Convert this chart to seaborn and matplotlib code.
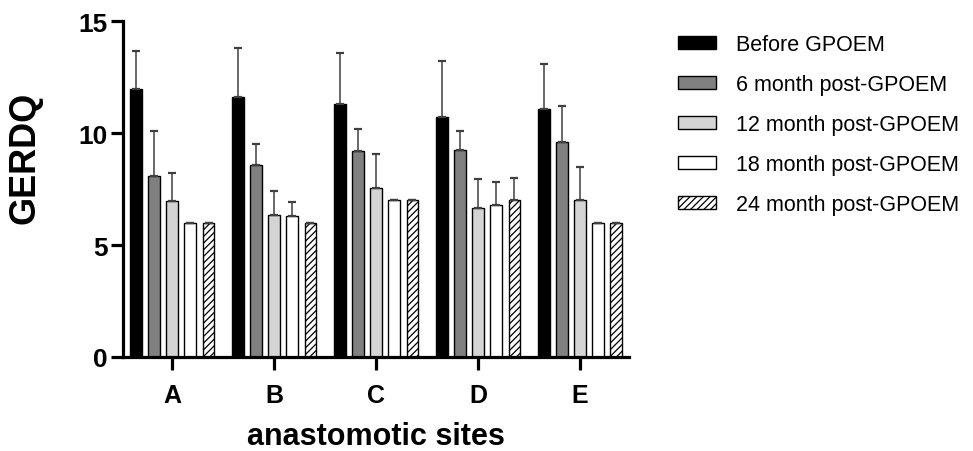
import numpy as np
import pandas as pd
import matplotlib
matplotlib.use("Agg")
import matplotlib.pyplot as plt
import seaborn as sns

# ---- data ----
sites = ["A", "B", "C", "D", "E"]
groups = ["Before GPOEM", "6 month post-GPOEM", "12 month post-GPOEM",
          "18 month post-GPOEM", "24 month post-GPOEM"]
before = [11.95, 11.6, 11.3, 10.7, 11.05]
m6 = [8.1, 8.55, 9.2, 9.25, 9.6]
m12 = [6.95, 6.35, 7.55, 6.65, 7.0]
m18 = [6.0, 6.3, 7.0, 6.8, 6.0]
m24 = [6.0, 6.0, 7.0, 7.0, 6.0]
err_before = [1.7, 2.2, 2.25, 2.5, 2.05]
err_m6 = [2.0, 0.95, 1.0, 0.85, 1.6]
err_m12 = [1.25, 1.05, 1.5, 1.3, 1.5]
err_m18 = [0.0, 0.6, 0.0, 1.0, 0.0]
err_m24 = [0.0, 0.0, 0.0, 1.0, 0.0]

values = [before, m6, m12, m18, m24]
errors = [err_before, err_m6, err_m12, err_m18, err_m24]
colors = ["#000000", "#808080", "#d4d4d4", "#ffffff", "#ffffff"]

df = pd.DataFrame({
    "site": [s for _ in groups for s in sites],
    "group": [g for g in groups for _ in sites],
    "value": [v for vals in values for v in vals],
})

sns.set_style("ticks")
plt.rcParams["font.family"] = ["Liberation Sans", "DejaVu Sans"]
plt.rcParams["hatch.linewidth"] = 0.9
plt.rcParams["hatch.color"] = "#333333"
plt.rcParams["text.color"] = "black"
plt.rcParams["axes.labelcolor"] = "black"

fig = plt.figure(figsize=(9.73, 4.52), dpi=100)
ax = fig.add_axes([122.7 / 973, 1 - 358 / 452, (629 - 122.7) / 973, (358 - 22) / 452])

sns.barplot(data=df, x="site", y="value", hue="group", hue_order=groups,
            order=sites, palette=colors, width=0.89, gap=0.35,
            edgecolor="black", linewidth=1.0, errorbar=None, ax=ax,
            saturation=1)

for container, errs, g in zip(ax.containers, errors, groups):
    xs, ys = [], []
    for patch in container.patches if hasattr(container, "patches") else container:
        xs.append(patch.get_x() + patch.get_width() / 2)
        ys.append(patch.get_height())
        if g == groups[-1]:
            patch.set_hatch("/////")
    ax.errorbar(xs, ys, yerr=[np.zeros(len(errs)), errs], fmt="none",
                ecolor="#404040", elinewidth=1.1, capsize=3.2, capthick=1.6,
                zorder=1)

ax.set_ylim(0, 15)
ax.set_xlim(-0.486, 4.48)
ax.set_yticks([0, 5, 10, 15])
sns.despine(ax=ax)
for sp in ["left", "bottom"]:
    ax.spines[sp].set_linewidth(2.3)
    ax.spines[sp].set_color("black")
ax.tick_params(axis="y", width=2.3, length=8.5, pad=2, labelsize=19, colors="black")
ax.tick_params(axis="x", width=2.3, length=9, pad=9.5, labelsize=18, colors="black")
for lab in ax.get_yticklabels() + ax.get_xticklabels():
    lab.set_fontweight("bold")

ax.set_xlabel("anastomotic sites", fontsize=22, fontweight="bold", labelpad=10,
              color="black")
ax.set_ylabel("GERDQ", fontsize=26, fontweight="bold", color="black")
ax.yaxis.set_label_coords(-0.193, 0.595)
ax.yaxis.label.set_va("center")

handles, labels = ax.get_legend_handles_labels()
leg = ax.legend(handles, labels, loc="upper left",
                bbox_to_anchor=(678 / 973, 1 - 35 / 452),
                bbox_transform=fig.transFigure, frameon=False, fontsize=15.5,
                handlelength=1.75, handleheight=0.55, handletextpad=0.95,
                labelspacing=0.88, borderpad=0, borderaxespad=0)
leg_handles = getattr(leg, "legend_handles", None) or leg.legendHandles
leg_handles[-1].set_hatch("/////")
for t in leg.get_texts():
    t.set_color("black")

fig.savefig("out.png", dpi=100)
